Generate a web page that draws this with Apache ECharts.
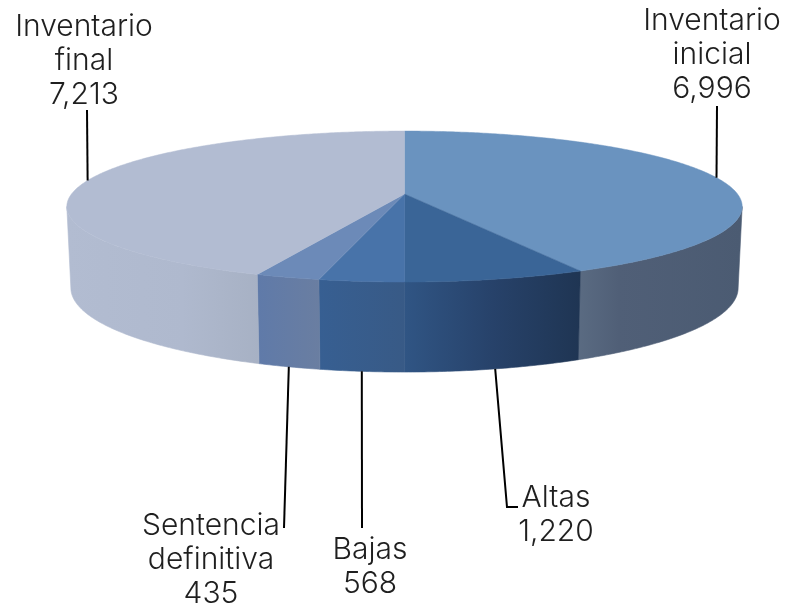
<!DOCTYPE html>
<html>
<head>
<meta charset="utf-8">
<style>html,body{margin:0;padding:0;background:#fff}#c{width:787px;height:606px}</style>
<script src="https://cdn.jsdelivr.net/npm/echarts@6/dist/echarts.min.js"></script>
</head>
<body>
<div id="c"></div>
<script>
// Data, clockwise from 12 o'clock
const categories = ['Inventario\ninicial', 'Altas', 'Bajas', 'Sentencia\ndefinitiva', 'Inventario\nfinal'];
const values = [6996, 1220, 568, 435, 7213];

// Styling per slice
const topColors = ['#6a93bf', '#3a6597', '#4873a9', '#6c8ab8', '#b2bcd2'];
const wallStops = [
  [[0, '#5a6b82'], [0.25, '#505f77'], [1, '#4b5b72']],
  [[0, '#305584'], [0.5, '#27426a'], [1, '#1f3553']],
  [[0, '#375f92'], [1, '#385a86']],
  [[0, '#5f7aa9'], [1, '#6a7ea1']],
  [[0, '#b2bcd1'], [0.6, '#afb9ce'], [1, '#a7b1c4']]
];

// Label layout: centre x, top y of text block, and the end of the leader line
const labelLayout = [
  { x: 712, y: 4,   leader: [[717, 106]],             onWall: false },
  { x: 556, y: 481, leader: [[507, 507], [518, 507]], onWall: true },
  { x: 370, y: 533, leader: [[362, 528]],             onWall: true },
  { x: 211, y: 509, leader: [[284, 528]],             onWall: true },
  { x: 84,  y: 10,  leader: [[87, 110]],              onWall: false }
];

// Perspective disc
const CX = 404.5, CY = 194, W = 333, A = 73.4, K = 0.166;
const DEPTH = 80, BOTTOM_X = 0.988, BOTTOM_Y = 1.114;
const total = values.reduce((a, b) => a + b, 0);
let acc = 0;
const angles = values.map(v => {
  const s = acc / total * 2 * Math.PI;
  acc += v;
  return [s, acc / total * 2 * Math.PI];
});
function topPt(t) {
  const d = 1 + K * Math.cos(t);
  return [CX + W * Math.sin(t) / d, CY - A * Math.cos(t) / d];
}
function botPt(t) {
  const p = topPt(t);
  return [CX + (p[0] - CX) * BOTTOM_X, CY + DEPTH + (p[1] - CY) * BOTTOM_Y];
}
function arc(fn, a, b) {
  const n = Math.max(2, Math.ceil(Math.abs(b - a) / 0.01));
  const out = [];
  for (let i = 0; i <= n; i++) out.push(fn(a + (b - a) * i / n));
  return out;
}
const VIS_A = Math.acos(-K), VIS_B = 2 * Math.PI - VIS_A;

function renderWall(params) {
  const i = params.dataIndex;
  const a = Math.max(angles[i][0], VIS_A), b = Math.min(angles[i][1], VIS_B);
  if (b <= a) return { type: 'group', children: [] };
  const pts = arc(topPt, a, b).concat(arc(botPt, b, a));
  const stops = wallStops[i].map(s => ({ offset: s[0], color: s[1] }));
  const fill = new echarts.graphic.LinearGradient(0, 0, 1, 0, stops);
  return { type: 'polygon', shape: { points: pts }, style: { fill: fill, stroke: fill, lineWidth: 0.6 } };
}
function renderTop(params) {
  const i = params.dataIndex;
  const pts = [[CX, CY]].concat(arc(topPt, angles[i][0], angles[i][1]));
  return { type: 'polygon', shape: { points: pts },
    style: { fill: topColors[i], stroke: topColors[i], lineWidth: 0.5 } };
}
function renderLabel(params) {
  const i = params.dataIndex, l = labelLayout[i];
  const mid = (angles[i][0] + angles[i][1]) / 2;
  const start = l.onWall ? botPt(mid) : topPt(mid);
  return { type: 'group', children: [
    { type: 'polyline', shape: { points: [start].concat(l.leader) },
      style: { stroke: '#000', lineWidth: 2, fill: null } },
    { type: 'text', style: {
        x: l.x, y: l.y,
        text: categories[i] + '\n' + values[i].toLocaleString('en-US'),
        fill: '#1f1f1f', font: '300 30px Inter', lineHeight: 34,
        align: 'center', verticalAlign: 'top' } }
  ] };
}
const chart = echarts.init(document.getElementById('c'), null, { renderer: 'canvas' });
const seriesData = values.map((v, i) => ({ name: categories[i], value: v }));
chart.setOption({
  animation: false,
  backgroundColor: '#fff',
  series: [
    { type: 'custom', coordinateSystem: 'none', z: 1, renderItem: renderWall, data: seriesData, silent: true },
    { type: 'custom', coordinateSystem: 'none', z: 2, renderItem: renderTop, data: seriesData, silent: true },
    { type: 'custom', coordinateSystem: 'none', z: 3, renderItem: renderLabel, data: seriesData, silent: true }
  ]
});
</script>
</body>
</html>
